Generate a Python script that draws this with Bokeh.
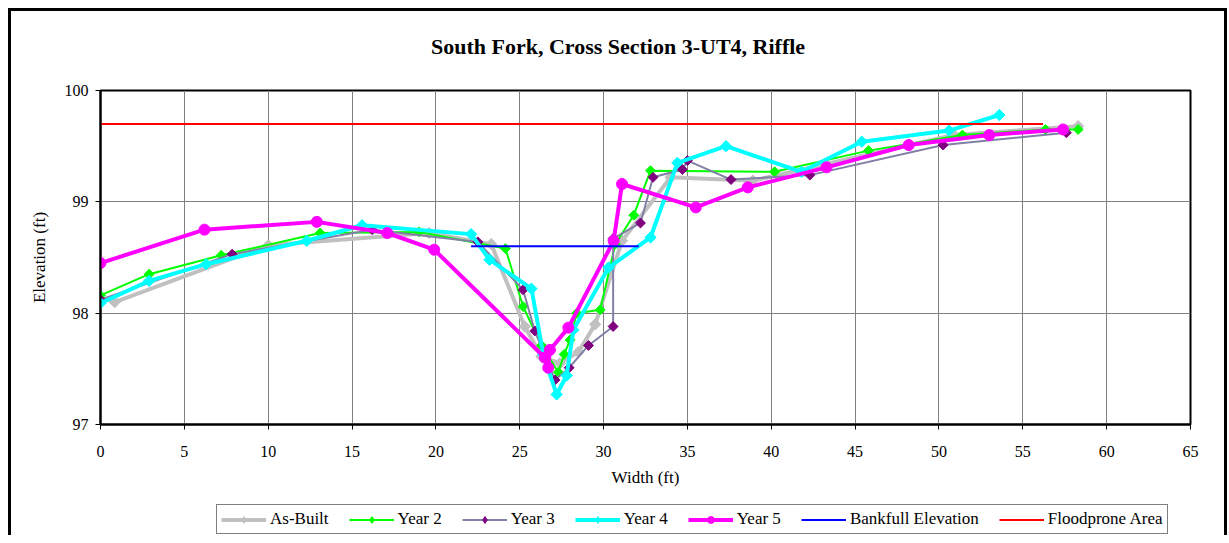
import math
from bokeh.plotting import figure
from bokeh.layouts import column
from bokeh.models import Range1d, FixedTicker, Legend, LegendItem, Label
from bokeh.embed import file_html
from bokeh.resources import INLINE

# ---------------- data ----------------
title_text = "South Fork, Cross Section 3-UT4, Riffle"
x_ticks = [0, 5, 10, 15, 20, 25, 30, 35, 40, 45, 50, 55, 60, 65]
y_ticks = [97, 98, 99, 100]

asbuilt_x = [0.85, 10.0, 19.6, 23.3, 25.3, 26.3, 27.4, 28.5, 29.5, 31.1, 34.0, 38.9, 50.9, 58.3]
asbuilt_y = [98.10, 98.61, 98.72, 98.62, 97.88, 97.61, 97.55, 97.65, 97.90, 98.65, 99.22, 99.19, 99.60, 99.68]

year2_x = [0.0, 2.9, 7.2, 13.1, 19.0, 24.15, 25.2, 26.3, 27.3, 27.65, 28.0, 28.4, 29.8, 30.7, 31.8, 32.8, 40.2, 45.8, 51.4, 56.35, 58.3]
year2_y = [98.16, 98.35, 98.52, 98.72, 98.73, 98.58, 98.06, 97.71, 97.47, 97.63, 97.76, 98.00, 98.03, 98.62, 98.88, 99.28, 99.27, 99.46, 99.60, 99.65, 99.65]

year3_x = [0.0, 7.85, 16.2, 22.5, 25.2, 25.9, 27.1, 27.95, 29.1, 30.57, 30.57, 32.2, 32.95, 34.7, 35.0, 37.6, 42.3, 50.25, 57.6]
year3_y = [98.12, 98.53, 98.75, 98.64, 98.21, 97.84, 97.40, 97.51, 97.71, 97.88, 98.67, 98.81, 99.22, 99.29, 99.37, 99.20, 99.24, 99.51, 99.62]

year4_x = [0.0, 2.9, 6.3, 12.3, 15.6, 22.1, 23.2, 25.7, 26.4, 27.2, 27.8, 28.2, 30.3, 32.8, 34.4, 37.3, 41.8, 45.4, 50.6, 53.6]
year4_y = [98.09, 98.29, 98.44, 98.65, 98.79, 98.71, 98.48, 98.22, 97.63, 97.27, 97.44, 97.85, 98.41, 98.68, 99.35, 99.50, 99.27, 99.54, 99.64, 99.78]

year5_x = [0.0, 6.2, 12.9, 17.1, 19.9, 26.5, 26.7, 26.8, 27.9, 30.6, 31.1, 35.5, 38.6, 43.3, 48.2, 53.0, 57.4]
year5_y = [98.45, 98.75, 98.82, 98.72, 98.57, 97.60, 97.51, 97.67, 97.87, 98.65, 99.16, 98.95, 99.13, 99.31, 99.51, 99.60, 99.65]

bankfull_x = [22.1, 32.1]
bankfull_y = [98.6, 98.6]

floodprone_x = [0.0, 56.2]
floodprone_y = [99.7, 99.7]

series_labels = ["As-Built", "Year 2", "Year 3", "Year 4", "Year 5",
                 "Bankfull Elevation", "Floodprone Area"]

FONT = "Liberation Serif"
W = 1213

# ---------------- title strip (frame aligned with chart frame) ----------------
t = figure(width=W, height=60, output_backend="svg", toolbar_location=None,
           x_range=Range1d(0, 1), y_range=Range1d(0, 1), min_border=0)
t.axis.visible = False
t.grid.visible = False
t.outline_line_color = None
t.add_layout(Label(x=0.4748, y=0.42, text=title_text, text_font=FONT,
                   text_font_size="22px", text_font_style="bold",
                   text_align="center", text_baseline="middle", text_color="black"))

# ---------------- main chart ----------------
p = figure(width=W, height=424, output_backend="svg", toolbar_location=None,
           x_range=Range1d(0, 65), y_range=Range1d(97, 100),
           min_border_left=89, min_border_right=34, min_border_top=19, min_border_bottom=71)
p.background_fill_color = "white"
p.border_fill_color = "white"
p.outline_line_color = "black"
p.outline_line_width = 2

p.xaxis.ticker = FixedTicker(ticks=x_ticks)
p.yaxis.ticker = FixedTicker(ticks=y_ticks)
for ax in (p.xaxis, p.yaxis):
    ax.axis_line_color = "black"
    ax.axis_line_width = 2
    ax.major_tick_out = 5
    ax.major_tick_in = 0
    ax.major_tick_line_color = "black"
    ax.minor_tick_line_color = None
    ax.major_label_text_font = FONT
    ax.major_label_text_font_size = "16px"
    ax.major_label_text_color = "black"
    ax.axis_label_text_font = FONT
    ax.axis_label_text_font_size = "17px"
    ax.axis_label_text_font_style = "normal"
    ax.axis_label_text_color = "black"
p.xaxis.axis_label = "Width (ft)"
p.yaxis.axis_label = "Elevation (ft)"
p.xaxis.major_label_standoff = 16
p.yaxis.major_label_standoff = 7
p.xaxis.axis_label_standoff = 8
p.yaxis.axis_label_standoff = 13

p.xgrid.grid_line_color = "#808080"
p.ygrid.grid_line_color = "#808080"
p.xgrid.grid_line_width = 1
p.ygrid.grid_line_width = 1

ang = math.pi / 4

styles = [
    dict(line_color="#c0c0c0", line_width=4, marker="square", angle=ang, size=8,
         fill_color="#c0c0c0", mline="#c0c0c0"),
    dict(line_color="#00ff00", line_width=2, marker="square", angle=ang, size=7,
         fill_color="#00ff00", mline="#00ff00"),
    dict(line_color="#8080a6", line_width=2, marker="square", angle=ang, size=7,
         fill_color="#800080", mline="#800080"),
    dict(line_color="#00ffff", line_width=4, marker="square", angle=ang, size=8,
         fill_color="#00ffff", mline="#00ffff"),
    dict(line_color="#ff00ff", line_width=4, marker="circle", angle=0, size=11,
         fill_color="#ff00ff", mline="#ff00ff"),
]
series = [(asbuilt_x, asbuilt_y), (year2_x, year2_y), (year3_x, year3_y),
          (year4_x, year4_y), (year5_x, year5_y)]


def draw_series(fig, for_legend=False):
    rs = []
    for (xs, ys), st in zip(series, styles):
        rl = fig.line(xs, ys, line_color=st["line_color"], line_width=st["line_width"])
        marker, size, angle = st["marker"], st["size"], st["angle"]
        if for_legend and marker == "square":
            marker, size, angle = "diamond", round(st["size"] * 1.45), 0
        rm = fig.scatter(xs, ys, marker=marker, angle=angle, size=size,
                         fill_color=st["fill_color"], line_color=st["mline"])
        rs.append([rl, rm])
    rs.append([fig.line(bankfull_x, bankfull_y, line_color="#0000ff", line_width=2)])
    rs.append([fig.line(floodprone_x, floodprone_y, line_color="#ff0000", line_width=2)])
    return rs


draw_series(p)

# ---------------- legend strip (same series, outside its visible range) ----------------
q = figure(width=W, height=40, output_backend="svg", toolbar_location=None,
           x_range=Range1d(0, 1), y_range=Range1d(0, 1), min_border=0)
q.axis.visible = False
q.grid.visible = False
q.outline_line_color = None
q_rs = draw_series(q, for_legend=True)

items = [LegendItem(label=lab, renderers=rs) for lab, rs in zip(series_labels, q_rs)]

legend = Legend(items=items, orientation="horizontal", location=(116, 1))
legend.label_text_font = FONT
legend.label_text_font_size = "17px"
legend.label_text_color = "black"
legend.glyph_width = 45
legend.glyph_height = 17
legend.label_height = 17
legend.label_standoff = 4
legend.spacing = 20
legend.padding = 4
legend.margin = 0
legend.border_line_color = "black"
legend.border_line_width = 1
legend.background_fill_color = "white"
legend.background_fill_alpha = 1
q.add_layout(legend, "center")

layout = column(t, p, q, spacing=0)
layout.styles = {"border-left": "3px solid black", "border-top": "3px solid black",
                 "border-right": "3px solid black", "margin-left": "8px", "margin-top": "8px"}

open("out.html", "w").write(file_html(layout, INLINE))
